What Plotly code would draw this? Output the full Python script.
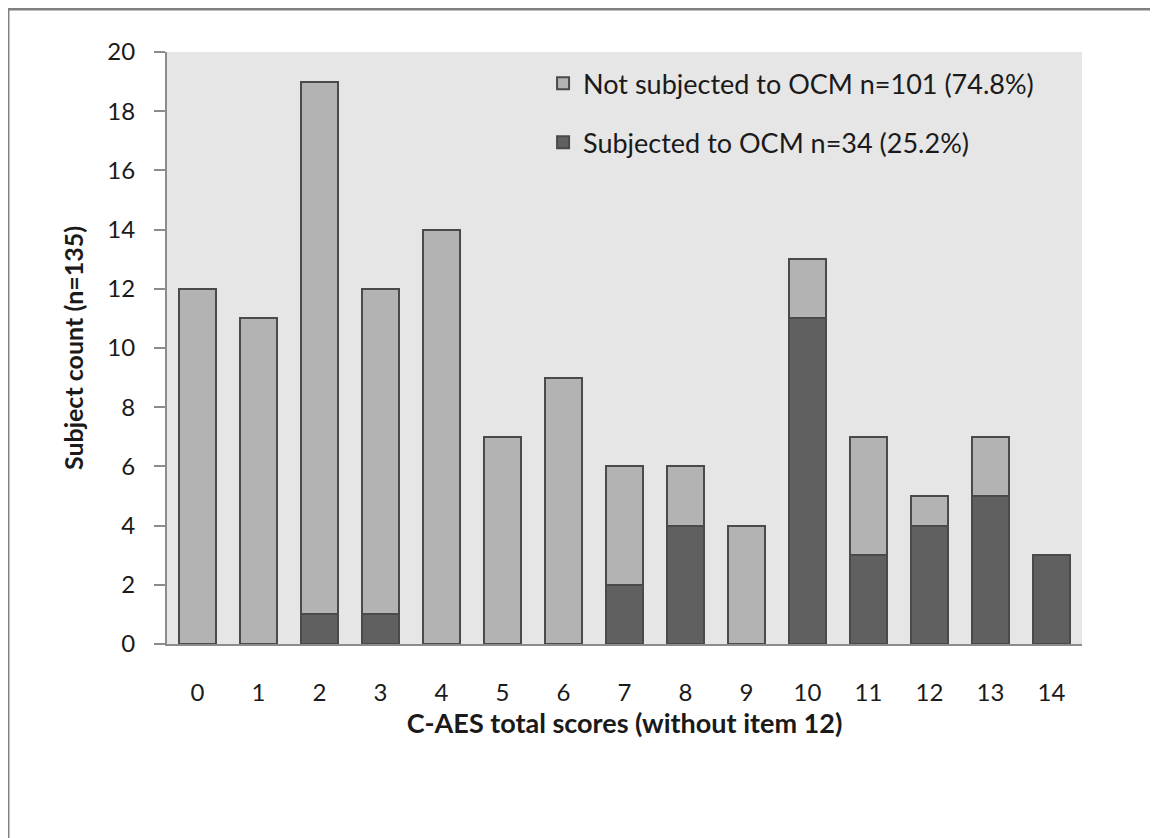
import plotly.graph_objects as go

scores = [str(i) for i in range(15)]
subjected = [0, 0, 1, 1, 0, 0, 0, 2, 4, 0, 11, 3, 4, 5, 3]
not_subjected = [12, 11, 18, 11, 14, 7, 9, 4, 2, 4, 2, 4, 1, 2, 0]
name_sub = "Subjected to OCM n=34 (25.2%)"
name_not = "Not subjected to OCM n=101 (74.8%)"

font_family = "Lato, 'Open Sans', sans-serif"

fig = go.Figure()
fig.add_trace(go.Bar(x=scores, y=subjected, name=name_sub, legendgroup="a", legendrank=2,
                     marker=dict(color="#606060", line=dict(color="#4a4a4a", width=2))))
fig.add_trace(go.Bar(x=scores, y=not_subjected, name=name_not, legendgroup="b", legendrank=1,
                     marker=dict(color="#b3b3b3", line=dict(color="#4a4a4a", width=2))))

fig.update_layout(
    width=1150, height=830,
    barmode="stack", bargap=0.38,
    paper_bgcolor="white", plot_bgcolor="#e6e6e6",
    margin=dict(l=159, r=76, t=44, b=194),
    font=dict(family=font_family, color="#1a1a1a", size=24),
    showlegend=True,
    legend=dict(x=0.411, y=0.988, xanchor="left", yanchor="top",
                traceorder="grouped", tracegroupgap=21,
                font=dict(size=27), bgcolor="rgba(0,0,0,0)"),
    xaxis=dict(showline=True, linecolor="#8c8c8c", linewidth=2,
               ticks="outside", ticklen=26, tickcolor="rgba(0,0,0,0)",
               tickfont=dict(size=24),
               title=dict(text="<b>C-AES total scores (without item 12)</b>",
                          font=dict(size=27), standoff=8)),
    yaxis=dict(range=[0, 20], dtick=2, showgrid=False, zeroline=False,
               showline=True, linecolor="#8c8c8c", linewidth=2,
               ticks="outside", ticklen=11, tickcolor="#8c8c8c", tickwidth=1.5,
               ticklabelstandoff=14, tickfont=dict(size=24),
               title=dict(text="<b>Subject count (n=135)</b>", font=dict(size=25),
                          standoff=17)),
)

# outer frame border (left and top visible)
fig.add_shape(type="line", xref="paper", yref="paper",
              x0=-0.1738, x1=-0.1738, y0=-0.4, y1=1.0726,
              line=dict(color="#808080", width=3))
fig.add_shape(type="line", xref="paper", yref="paper",
              x0=-0.1738, x1=1.2, y0=1.0726, y1=1.0726,
              line=dict(color="#808080", width=3))

fig.write_html("out.html")
